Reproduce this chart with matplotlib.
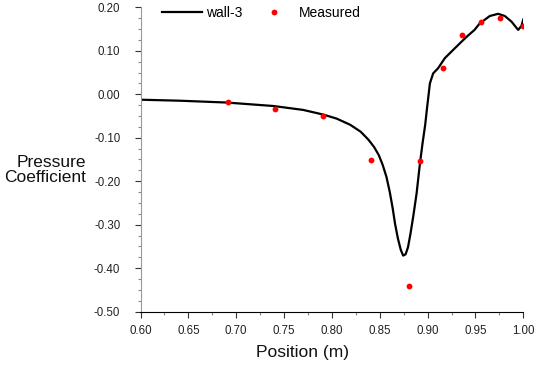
import matplotlib
matplotlib.use("Agg")
import matplotlib.pyplot as plt
from matplotlib.ticker import MultipleLocator, FormatStrFormatter
from matplotlib.lines import Line2D

# wall-3 curve
wall_x = [0.600, 0.641, 0.690, 0.739, 0.770, 0.791, 0.805, 0.819, 0.830, 0.838,
          0.844, 0.849, 0.853, 0.8570, 0.8605, 0.8635, 0.8660, 0.8690, 0.8720, 0.8745,
          0.8770, 0.8795, 0.8820, 0.885, 0.8885, 0.892, 0.8947, 0.8975, 0.8995,
          0.9024, 0.9058, 0.911, 0.918, 0.9267, 0.9355, 0.9407, 0.949, 0.9545,
          0.965, 0.9737, 0.9807, 0.9877, 0.9946, 0.998, 1.000]
wall_y = [-0.0125, -0.0148, -0.019, -0.027, -0.036, -0.0467, -0.056, -0.070, -0.086, -0.104,
          -0.121, -0.140, -0.162, -0.190, -0.225, -0.262, -0.298, -0.332, -0.358, -0.371,
          -0.368, -0.352, -0.322, -0.281, -0.228, -0.159, -0.113, -0.070, -0.030,
          0.025, 0.048, 0.060, 0.083, 0.102, 0.121, 0.132, 0.148, 0.163,
          0.180, 0.185, 0.180, 0.167, 0.148, 0.157, 0.172]

# measured points
meas_x = [0.691, 0.741, 0.791, 0.841, 0.881, 0.892, 0.916, 0.936, 0.956, 0.976, 1.000]
meas_y = [-0.017, -0.0345, -0.050, -0.152, -0.441, -0.154, 0.060, 0.1356, 0.1655, 0.175, 0.157]

plt.rcParams["font.family"] = ["Liberation Sans", "DejaVu Sans"]

W, H = 534, 365
fig = plt.figure(figsize=(W / 100, H / 100), dpi=100)
ax = fig.add_axes([140.5 / W, 1 - 311.7 / H, (523.3 - 140.5) / W, (311.7 - 7.3) / H])

ax.plot(wall_x, wall_y, color="black", lw=1.6, solid_joinstyle="round")
ax.plot(meas_x, meas_y, "o", color="#ff0000", ms=4.2, mec="none")

ax.set_xlim(0.60, 1.00)
ax.set_ylim(-0.50, 0.20)
ax.xaxis.set_major_locator(MultipleLocator(0.05))
ax.xaxis.set_minor_locator(MultipleLocator(0.025))
ax.yaxis.set_major_locator(MultipleLocator(0.10))
ax.yaxis.set_minor_locator(MultipleLocator(0.025))
ax.xaxis.set_major_formatter(FormatStrFormatter("%.2f"))
ax.yaxis.set_major_formatter(FormatStrFormatter("%.2f"))

for s in ["top", "right"]:
    ax.spines[s].set_visible(False)
ax.spines["left"].set_color("#999999")
ax.spines["bottom"].set_color("black")
ax.spines["left"].set_linewidth(0.8)
ax.spines["bottom"].set_linewidth(0.8)

ax.tick_params(which="major", length=4.5, width=0.8, color="#333333",
               labelsize=8.3, labelcolor="#222222")
ax.tick_params(which="minor", length=2.5, width=0.8, color="#888888")
ax.tick_params(axis="y", which="major", pad=10)
ax.tick_params(axis="x", which="major", pad=5)

fig.text(302 / W, 1 - 353 / H, "Position (m)", ha="center", va="center",
         fontsize=12.5, color="#111111")
fig.text(86 / W, 1 - 170 / H, "Pressure\nCoefficient", ha="right", va="center",
         multialignment="right", fontsize=12.5, color="#111111", linespacing=1.0)

handles = [Line2D([], [], color="black", lw=1.6),
           Line2D([], [], ls="none", marker="o", color="#ff0000", ms=4.2, mec="none")]
fig.legend(handles, ["wall-3", "Measured"], loc="center left",
           bbox_to_anchor=(162 / W, 1 - 13 / H), ncol=2, frameon=False,
           fontsize=10, handlelength=2.9, handletextpad=0.3, columnspacing=0.8,
           borderpad=0, borderaxespad=0)

fig.savefig("out.png", dpi=100)
